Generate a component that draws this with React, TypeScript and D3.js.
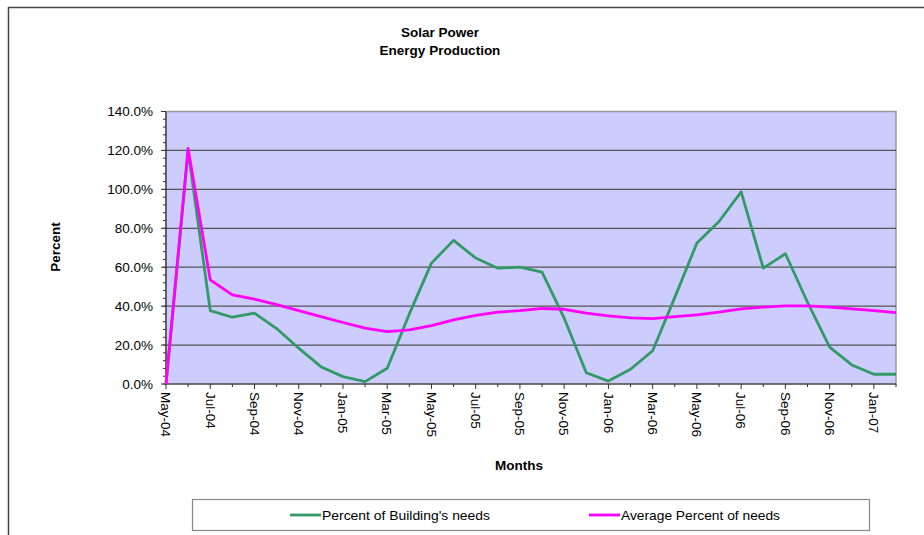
import * as d3 from "d3";
import { useEffect, useRef } from "react";

const months = [
  "May-04", "Jun-04", "Jul-04", "Aug-04", "Sep-04", "Oct-04", "Nov-04", "Dec-04",
  "Jan-05", "Feb-05", "Mar-05", "Apr-05", "May-05", "Jun-05", "Jul-05", "Aug-05",
  "Sep-05", "Oct-05", "Nov-05", "Dec-05", "Jan-06", "Feb-06", "Mar-06", "Apr-06",
  "May-06", "Jun-06", "Jul-06", "Aug-06", "Sep-06", "Oct-06", "Nov-06", "Dec-06",
  "Jan-07", "Feb-07",
];

const buildingNeeds = [
  0, 120, 37.7, 34.3, 36.4, 28.5, 18.4, 8.9, 3.8, 1.2, 8.1, 36, 62.1, 73.8, 64.7, 59.5,
  60, 57.5, 33.8, 5.8, 1.5, 7.6, 17.1, 44.5, 72.4, 83.5, 98.7, 59.5, 66.9, 42, 18.9, 9.8,
  5, 5,
];

const averageNeeds = [
  0, 121, 53.5, 45.8, 43.6, 40.8, 37.7, 34.6, 31.6, 28.7, 26.9, 27.8, 30, 32.9, 35.2, 36.9,
  37.7, 38.8, 38.4, 36.4, 35, 34, 33.6, 34.6, 35.5, 36.9, 38.6, 39.5, 40.1, 40.1, 39.5, 38.6,
  37.7, 36.7,
];

const yTicks = [0, 20, 40, 60, 80, 100, 120, 140];

const GREEN = "#339966";
const MAGENTA = "#ff00ff";
const FONT = "'Liberation Sans', Arial, sans-serif";

export default function App() {
  const ref = useRef<SVGSVGElement>(null);

  useEffect(() => {
    const svg = d3.select(ref.current);
    svg.selectAll("*").remove();

    const left = 166,
      right = 896,
      top = 111.5,
      bottom = 384;

    const x = d3.scaleLinear().domain([0, months.length - 1]).range([left, right]);
    const y = d3.scaleLinear().domain([0, 140]).range([bottom, top]);

    // outer frame (runs off the page on right and bottom)
    svg.append("path")
      .attr("d", `M8.5,535 V7.5 H924`)
      .attr("fill", "none")
      .attr("stroke", "#444")
      .attr("stroke-width", 1.5);

    // Title
    const title = svg.append("g")
      .attr("font-family", FONT)
      .attr("font-weight", "bold")
      .attr("font-size", 13.5)
      .attr("text-anchor", "middle");
    title.append("text").attr("x", 440).attr("y", 37).text("Solar Power");
    title.append("text").attr("x", 440).attr("y", 55).text("Energy Production");

    // Plot area
    svg.append("rect")
      .attr("x", left)
      .attr("y", top)
      .attr("width", right - left)
      .attr("height", bottom - top)
      .attr("fill", "#ccccff")
      .attr("stroke", "#999")
      .attr("stroke-width", 1.5);

    // Gridlines
    svg.append("g")
      .selectAll("line")
      .data(yTicks.filter((d) => d > 0 && d < 140))
      .join("line")
      .attr("x1", left)
      .attr("x2", right)
      .attr("y1", (d) => y(d))
      .attr("y2", (d) => y(d))
      .attr("stroke", "#555")
      .attr("stroke-width", 1.2);

    // Y axis
    const yAxis = svg.append("g");
    yAxis.append("line")
      .attr("x1", left).attr("x2", left)
      .attr("y1", top).attr("y2", bottom)
      .attr("stroke", "#333").attr("stroke-width", 1.2);
    yAxis.selectAll(".minor")
      .data(d3.range(0, 141, 4))
      .join("line")
      .attr("x1", left - 3).attr("x2", left)
      .attr("y1", (d) => y(d)).attr("y2", (d) => y(d))
      .attr("stroke", "#333");
    yAxis.selectAll(".major")
      .data(yTicks)
      .join("line")
      .attr("x1", left - 5).attr("x2", left)
      .attr("y1", (d) => y(d)).attr("y2", (d) => y(d))
      .attr("stroke", "#333");
    yAxis.selectAll("text")
      .data(yTicks)
      .join("text")
      .attr("x", 153)
      .attr("y", (d) => y(d))
      .attr("dy", "0.35em")
      .attr("text-anchor", "end")
      .attr("font-family", FONT)
      .attr("font-size", 13.5)
      .text((d) => d3.format(".1f")(d) + "%");

    // X axis
    const xAxis = svg.append("g");
    xAxis.append("line")
      .attr("x1", left).attr("x2", right)
      .attr("y1", bottom).attr("y2", bottom)
      .attr("stroke", "#333").attr("stroke-width", 1.2);
    xAxis.selectAll(".tick")
      .data(months.map((m, i) => i))
      .join("line")
      .attr("x1", (d) => x(d)).attr("x2", (d) => x(d))
      .attr("y1", bottom).attr("y2", (d) => bottom + (d % 2 === 0 ? 5 : 3))
      .attr("stroke", "#333");
    xAxis.selectAll("text")
      .data(months.filter((m, i) => i % 2 === 0 && i < months.length - 1))
      .join("text")
      .attr("transform", (d) => `translate(${x(months.indexOf(d))},392) rotate(90)`)
      .attr("dy", "0.35em")
      .attr("font-family", FONT)
      .attr("font-size", 13.5)
      .text((d) => d);

    // Axis titles
    svg.append("text")
      .attr("transform", "translate(60,247) rotate(-90)")
      .attr("text-anchor", "middle")
      .attr("font-family", FONT)
      .attr("font-weight", "bold")
      .attr("font-size", 13.5)
      .text("Percent");
    svg.append("text")
      .attr("x", 519)
      .attr("y", 470)
      .attr("text-anchor", "middle")
      .attr("font-family", FONT)
      .attr("font-weight", "bold")
      .attr("font-size", 13.5)
      .text("Months");

    // Lines
    const line = d3
      .line<number>()
      .x((d, i) => x(i))
      .y((d) => y(d));

    svg.append("path")
      .datum(buildingNeeds)
      .attr("fill", "none")
      .attr("stroke", GREEN)
      .attr("stroke-width", 2.8)
      .attr("stroke-linejoin", "round")
      .attr("d", line);

    svg.append("path")
      .datum(averageNeeds)
      .attr("fill", "none")
      .attr("stroke", MAGENTA)
      .attr("stroke-width", 2.8)
      .attr("stroke-linejoin", "round")
      .attr("d", line);

    // Legend
    const legend = svg.append("g").attr("font-family", FONT).attr("font-size", 13.5);
    legend.append("rect")
      .attr("x", 192.5).attr("y", 499.5)
      .attr("width", 677).attr("height", 31)
      .attr("fill", "#fff")
      .attr("stroke", "#888")
      .attr("stroke-width", 1.2);
    const items = [
      { label: "Percent of Building's needs", color: GREEN, x0: 290, w: 168 },
      { label: "Average Percent of needs", color: MAGENTA, x0: 589, w: 159 },
    ];
    items.forEach((it) => {
      legend.append("line")
        .attr("x1", it.x0).attr("x2", it.x0 + 31)
        .attr("y1", 515).attr("y2", 515)
        .attr("stroke", it.color).attr("stroke-width", 2.8);
      legend.append("text")
        .attr("x", it.x0 + 32)
        .attr("y", 515)
        .attr("dy", "0.35em")
        .attr("textLength", it.w)
        .attr("lengthAdjust", "spacingAndGlyphs")
        .text(it.label);
    });
  }, []);

  return (
    <svg
      ref={ref}
      width={924}
      height={535}
      style={{ position: "absolute", left: 0, top: 0, background: "#fff" }}
    ></svg>
  );
}
